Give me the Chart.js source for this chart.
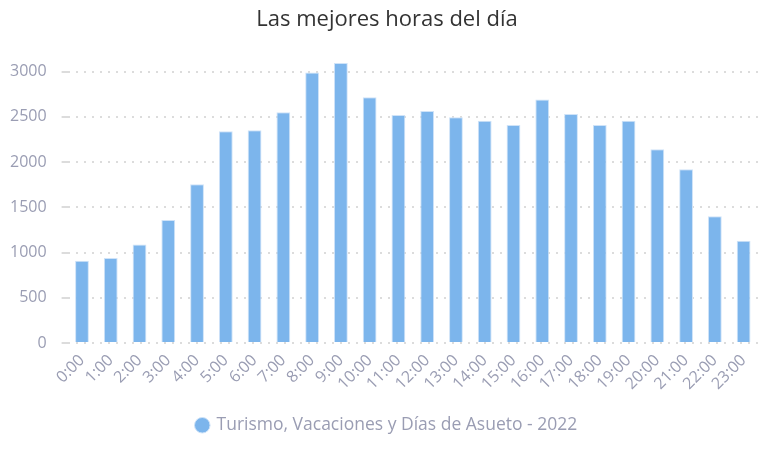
<!DOCTYPE html>
<html>
<head>
<meta charset="utf-8">
<script src="https://cdn.jsdelivr.net/npm/chart.js@4"></script>
<style>
    html, body { margin: 0; padding: 0; background: #fff; }
    #wrap { width: 774px; height: 450px; position: relative; }
</style>
</head>
<body>
<div id="wrap"><canvas id="horas"></canvas></div>
<script>
const horas = ['0:00', '1:00', '2:00', '3:00', '4:00', '5:00', '6:00', '7:00', '8:00', '9:00', '10:00', '11:00',
    '12:00', '13:00', '14:00', '15:00', '16:00', '17:00', '18:00', '19:00', '20:00', '21:00', '22:00', '23:00'];
const menciones = [910, 940, 1090, 1360, 1755, 2340, 2350, 2550, 2990, 3095, 2715, 2520,
    2565, 2495, 2455, 2410, 2690, 2530, 2410, 2455, 2140, 1920, 1400, 1130];
const yTicks = [0, 500, 1000, 1500, 2000, 2500, 3000];
const serie = 'Turismo, Vacaciones y Días de Asueto - 2022';
const titulo = 'Las mejores horas del día';

const labelColor = '#9a9db3';
const barColor = '#7cb5ec';

Chart.defaults.font.family = "'Open Sans', sans-serif";

// y labels sit a bit left of the layout padding, widen the axis box so they are not clipped
const unclipY = {
    id: 'unclipY',
    afterLayout(chart) {
        chart.scales.y.left = 0;
    }
};

new Chart(document.getElementById('horas').getContext('2d'), {
    type: 'bar',
    data: {
        labels: horas,
        datasets: [{
            label: serie,
            data: menciones,
            backgroundColor: barColor,
            borderColor: '#cfe3f8',
            borderWidth: 1,
            barPercentage: 0.48,
            categoryPercentage: 1
        }]
    },
    options: {
        responsive: true,
        maintainAspectRatio: false,
        animation: false,
        layout: { padding: { left: 16, right: 16, top: 2, bottom: 6 } },
        scales: {
            x: {
                grid: { display: false },
                border: { display: false },
                afterFit: axis => { axis.height += 9; },
                ticks: {
                    color: labelColor,
                    font: { size: 16 },
                    minRotation: 45,
                    maxRotation: 45,
                    autoSkip: false,
                    padding: 0
                }
            },
            y: {
                min: 0,
                max: 3200,
                z: 1,
                afterBuildTicks: axis => {
                    axis.ticks = yTicks.map(v => ({ value: v }));
                },
                // pull the plot back left, the legend stays centred on the page
                afterFit: axis => { axis.width -= 21; },
                border: { display: false, dash: [2, 6] },
                grid: {
                    color: '#dcdcdc',
                    lineWidth: 2,
                    tickLength: 6
                },
                ticks: {
                    color: labelColor,
                    font: { size: 16 },
                    padding: 15,
                    callback: v => String(v)
                }
            }
        },
        plugins: {
            title: {
                display: true,
                text: titulo,
                color: '#333',
                font: { size: 22, weight: 'normal' },
                padding: { top: 5, bottom: 20 }
            },
            legend: {
                position: 'bottom',
                labels: {
                    usePointStyle: true,
                    pointStyle: 'circle',
                    boxWidth: 11,
                    boxHeight: 11,
                    color: labelColor,
                    font: { size: 17.5 },
                    padding: 14
                }
            },
            tooltip: { enabled: false }
        }
    },
    plugins: [unclipY]
});
</script>
</body>
</html>
